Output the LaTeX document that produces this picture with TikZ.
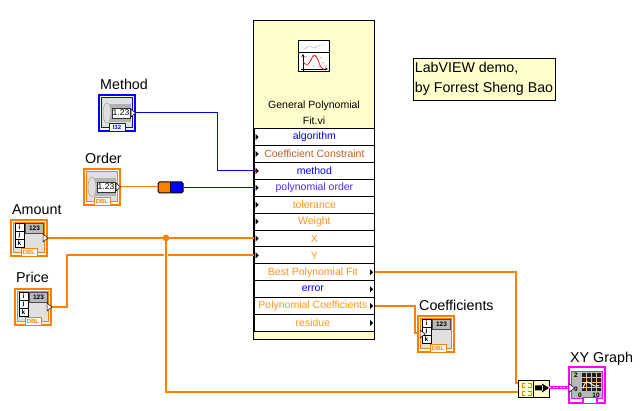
\documentclass[tikz,border=0pt]{standalone}
\usepackage{fontspec}
\setmainfont{Liberation Sans}
\usetikzlibrary{matrix,positioning}
\definecolor{wireorange}{RGB}{255,128,0}
\definecolor{wireblue}{RGB}{0,0,255}
\definecolor{wirepink}{RGB}{255,0,255}
\definecolor{viyellow}{RGB}{255,255,204}
\definecolor{termgray}{RGB}{224,224,224}
\definecolor{brownlabel}{RGB}{190,95,40}
\definecolor{purplelabel}{RGB}{80,40,255}
\definecolor{orangelabel}{RGB}{255,150,30}
\tikzset{x=1pt,y=-1pt,
  termbox/.style={draw=#1,line width=2pt,fill=white,minimum size=36pt,inner sep=0pt,outer sep=1pt},
  termlabel/.style={inner sep=0pt,text height=10pt,text depth=3pt,font=\fontsize{14.3}{16}\selectfont},
  rowcell/.style={draw=black,line width=0.9pt,fill=white,inner sep=0pt,outer sep=0pt,anchor=center,
    minimum width=120.5pt,minimum height=16.9pt,font=\fontsize{10.5}{12}\selectfont},
  tagbox/.style={draw=#1,text=#1,fill=white,line width=0.8pt,inner sep=0pt,minimum width=16pt,
    minimum height=8pt,font=\bfseries\fontsize{6}{7}\selectfont},
  thinwire/.style={draw=#1,line width=1pt},
  thickwire/.style={draw=wireorange,line width=2.4pt},
  pin/.style={fill=black}}
\newcommand{\outtext}[1]{#1\hspace*{3pt}}
\newcommand{\numctl}[3]{%
  \begin{scope}[shift={(#1.center)}]
    \draw[#2,line width=0.8pt,fill=termgray] (-15.5,-15.5) rectangle (15.5,14);
    \fill[gray!60] (-7,-9) rectangle (14,9);
    \fill[gray!25,draw=gray!80] (-10,0) ellipse (4pt and 10pt);
    \node[draw=gray!40!black,fill=white,line width=0.5pt,inner sep=0pt,minimum width=18pt,minimum height=10pt,
      font=\fontsize{8.5}{9}\selectfont] (#1-val) at (4,0) {1.23};
    \draw[fill=white,line width=0.5pt] (14,-4) -- (18.5,0) -- (14,4) -- cycle;
    \node[tagbox=#2] (#1-tag) at (0,14) {#3};
  \end{scope}}
\newcommand{\arrayctl}[3]{%
  \begin{scope}[shift={(#1.center)}]
    \draw[wireorange,line width=0.8pt,fill=termgray] (-15.5,-15.5) rectangle (15.5,14);
    \foreach \idx/\ypos/\letter in {i/-11/i,j/-3/j,k/5/k}
      \node[draw=black,fill=white,line width=0.6pt,inner sep=0pt,minimum width=9pt,minimum height=8pt,
        font=\bfseries\fontsize{6.5}{7}\selectfont] (#1-\idx) at (-9.5,\ypos) {\letter};
    \node[draw=black!70,fill=gray!55,inner sep=0pt,minimum width=18pt,minimum height=10pt,
      font=\bfseries\fontsize{6.5}{7}\selectfont] (#1-val) at (5.5,-9.5) {123};
    \draw[fill=white,line width=0.5pt] (#2,-4) -- ++(5,4) -- ++(-5,4) -- cycle;
    \node[tagbox=wireorange] (#1-tag) at (#3,14) {DBL};
  \end{scope}}
\begin{document}
\begin{tikzpicture}
	\useasboundingbox (0,0) rectangle (641,411);
	\node[draw=black,line width=1pt,fill=viyellow,minimum width=120.5pt,minimum height=319pt,
	  inner sep=0pt] (fitvi) at (313.75,180) {};
	\node[inner sep=0pt,align=center,font=\fontsize{10.5}{16}\selectfont] (fitname) at (314,112.5)
	  {General Polynomial\\Fit.vi};
	\matrix (m) [matrix of nodes,anchor=north west,inner sep=0pt,row sep=-0.9pt,nodes={rowcell}] at (253.5,128)
	  { |[text=wireblue]| algorithm \\
	    |[text=brownlabel]| Coefficient Constraint \\
	    |[text=wireblue]| method \\
	    |[text=purplelabel]| polynomial order \\
	    |[text=orangelabel]| tolerance \\
	    |[text=orangelabel]| Weight \\
	    |[text=orangelabel]| X \\
	    |[text=orangelabel]| Y \\
	    |[text=orangelabel]| \outtext{Best Polynomial Fit} \\
	    |[text=wireblue]| \outtext{error} \\
	    |[text=orangelabel]| \outtext{Polynomial Coefficients} \\
	    |[text=orangelabel]| \outtext{residue} \\ };
	\foreach \row in {1,...,8}
	  \fill[pin] (m-\row-1.west) ++(1.5,-3) -- ++(3,3) -- ++(-3,3) -- cycle;
	\foreach \row in {9,...,12}
	  \fill[pin] (m-\row-1.east) ++(-4.5,-3) -- ++(3,3) -- ++(-3,3) -- cycle;
	\fill[red] (m-3-1.west) ++(1.5,0) circle (1.3pt);
	\node[draw=black,fill=white,line width=1pt,minimum width=31pt,minimum height=31pt,inner sep=0pt]
	  (icon) at (314,56.5) {};
	\draw[black,line width=0.8pt] (icon.west |- 0,52) -- (icon.east |- 0,52);
	\draw[black,densely dotted] (304,49) -- (309,46) -- (314,48) -- (320,45) -- (325,45);
	\draw[black,->,>=stealth] (303,71) -- (303,54);
	\draw[black,->,>=stealth] (301,69) -- (328,69);
	\draw[red,line width=0.7pt] (303,62) .. controls (307,67) and (309,64) .. (311,60)
	  .. controls (313,54) and (316,54) .. (318,60) .. controls (320,66) and (322,70) .. (324,69);
	\foreach \dotx/\doty in {306/57,310/60,313/56,316/56,321/58,323/63,308/66,314/66,319/67,326/66}
	  \fill[black] (\dotx,\doty) circle (0.5pt);
	\node[draw=black,line width=0.8pt,fill=viyellow,minimum width=142pt,minimum height=42pt,
	  inner sep=0pt,align=left,font=\fontsize{14.2}{20}\selectfont] (note) at (484,79)
	  {LabVIEW demo,\\by Forrest Sheng Bao};
	\node[termbox=wireblue] (method) at (117,113) {};
	\node[termbox=wireorange] (order) at (102,187) {};
	\node[termbox=wireorange] (amount) at (29,238) {};
	\node[termbox=wireorange] (price) at (33,307) {};
	\node[termbox=wireorange] (coeffs) at (436,334) {};
	\node[termbox=wirepink] (graph) at (587,385.5) {};
	\numctl{method}{wireblue}{I32}
	\numctl{order}{wireorange}{DBL}
	\arrayctl{amount}{14}{0}
	\arrayctl{price}{14}{0}
	\arrayctl{coeffs}{-16}{2}
	\node[termlabel,above right=1pt and 2pt of method.north west] (methodname) {Method};
	\node[termlabel,above right=1pt and 2pt of order.north west] (ordername) {Order};
	\node[termlabel,above right=1pt and 2pt of amount.north west] (amountname) {Amount};
	\node[termlabel,above right=2pt and 2pt of price.north west] (pricename) {Price};
	\node[termlabel,above right=1pt and 2pt of coeffs.north west] (coeffsname) {Coefficients};
	\node[termlabel,above right=1pt and 2pt of graph.north west] (graphname) {XY Graph};
	\begin{scope}[shift={(graph.center)}]
	  \draw[wirepink,line width=0.8pt,fill=gray!55] (-15.5,-14.5) rectangle (15.5,13);
	  \fill[gray!25!black] (-5,-12.5) rectangle (14,5.5);
	  \foreach \gridx in {-1,4,9} \draw[orange!55!white,line width=0.7pt] (\gridx,-12.5) -- (\gridx,5.5);
	  \foreach \gridy in {-8,-3,2} \draw[orange!55!white,line width=0.7pt] (-5,\gridy) -- (14,\gridy);
	  \draw[white,line width=0.9pt] (-4,3) .. controls (0,-12) and (4,4) .. (12,0);
	  \foreach \tickname/\tickx/\ticky/\ticktext in {ya/-11/-10.5/2,yb/-11/3.5/0,xa/-7/9.5/0,xb/9/9.5/10}
	    \node[inner sep=0pt,font=\bfseries\fontsize{6.5}{7}\selectfont] (graph-\tickname) at (\tickx,\ticky) {\ticktext};
	  \draw[fill=white,line width=0.5pt] (-18,-2) -- (-12.5,2.5) -- (-18,7) -- cycle;
	  \node[draw=wirepink,fill=white,line width=1.4pt,inner sep=0pt,minimum width=14pt,minimum height=6pt]
	    (graph-tag) at (3,15) {};
	\end{scope}
	\node[draw=black,line width=1pt,minimum width=25pt,minimum height=11pt,inner sep=0pt,rounded corners=1.5pt,
	  path picture={\fill[wireorange] (-12.5,-5.5) rectangle (0,5.5);
	    \fill[wireblue] (0,-5.5) rectangle (12.5,5.5);
	    \draw[black,line width=0.8pt] (0,-5.5) -- (0,5.5);}] (coerce) at (170.5,187.5) {};
	\node[draw=black,fill=viyellow,line width=0.8pt,minimum width=31pt,minimum height=17pt,inner sep=0pt]
	  (bundle) at (533.5,388.5) {};
	\draw[black,line width=0.8pt] (533,380) -- (533,397);
	\foreach \ytop/\ybot in {383/387,391/395}
	  \draw[wireorange,line width=0.8pt] (525,\ytop) -| (522,\ybot) -- (525,\ybot)
	    (528,\ytop) -| (531,\ybot) -- (528,\ybot);
	\fill[black] (535,385.5) rectangle (543,390.5) (542,383.5) -- (549,388) -- (542,392.5) -- cycle;
	\coordinate (bundlea) at (518,383);
	\coordinate (bundleb) at (518,392);
	\coordinate (branch) at (166,238);
	\draw[thinwire=wireblue] (method.east) -| (217,171) -- (217,171 -| m-3-1.west);
	\draw[thinwire=wireorange] (order.east) -- (order.east -| coerce.west);
	\draw[thinwire=wireblue] (coerce.east) -- (coerce.east -| m-4-1.west);
	\draw[thickwire] (price.east) -| (67,255) -- (67,255 -| m-8-1.west);
	\draw[thickwire,preaction={draw=white,line width=4.5pt}] (branch) |- (bundleb);
	\draw[thickwire] (amount.east) -- (amount.east -| m-7-1.west);
	\draw[thickwire] (m-9-1.east) -| (516,383) -- (bundlea);
	\draw[thickwire] (m-11-1.east) -| (415,333) -- (coeffs.west |- 0,333);
	\fill[wireorange] (branch) circle (3.4pt);
	\draw[wirepink,line width=3pt] (bundle.east |- 0,388) -- (graph.west |- 0,388);
	\draw[white,line width=1pt,dash pattern=on 2pt off 1.5pt] (bundle.east |- 0,388) -- (graph.west |- 0,388);
\end{tikzpicture}
\end{document}
